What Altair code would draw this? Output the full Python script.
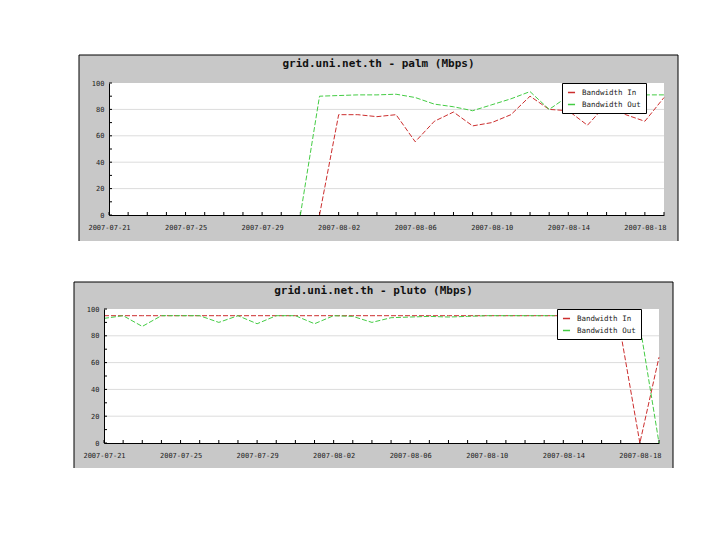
import altair as alt
import pandas as pd

# ---------------- data ----------------
dates = pd.date_range("2007-07-21", "2007-08-19", freq="D")

# None = nothing drawn above the x axis on that day
palm_in = [None, None, None, None, None, None, None, None, None, None, None, 0,
           76, 76, 74.5, 76, 55.5, 71, 78, 67.5, 70, 76, 90, 80, 79, 68, 84, 76, 71, 89]
palm_out = [None, None, None, None, None, None, None, None, None, None, 0,
            90, 90.5, 91, 91, 91.5, 89, 84, 82, 79, 83.5, 88, 93.5, 80, 90, 91, 91, 91, 91, 91]

pluto_in = [95, 95, 95, 95, 95, 95, 95, 95, 95, 95, 95, 95, 95, 95, 95,
            95, 95, 95, 95, 95, 95, 95, 95, 95, 95, 95, 95, 82, 0, 64]
pluto_out = [93, 95, 87, 95, 95, 95, 90, 95, 89, 95, 95, 89, 95, 94.5, 90,
             93.5, 94, 94.5, 94, 94.5, 95, 95, 95, 95, 95, 95, 95, 95, 88, 0]

series_names = ["Bandwidth In", "Bandwidth Out"]
series_colors = ["#cc2e2e", "#44cc44"]

x_label_dates = ["2007-07-21", "2007-07-25", "2007-07-29", "2007-08-02",
                 "2007-08-06", "2007-08-10", "2007-08-14", "2007-08-18"]
y_label_values = [0, 20, 40, 60, 80, 100]
y_tick_values = [0, 10, 20, 30, 40, 50, 60, 70, 80, 90, 100]
grid_values = [20, 40, 60, 80]

W = 555
FONT = "DejaVu Sans Mono"
PANEL = "#c8c8c8"


def dt(s):
    y, m, d = (int(p) for p in s.split("-"))
    return alt.DateTime(year=y, month=m, date=d)


def make_panel(title, s_in, s_out, H, top, bottom, title_y, dx):
    left, right = 30, 14
    df = pd.DataFrame({
        "date": list(dates) * 2,
        "value": list(s_in) + list(s_out),
        "series": [series_names[0]] * len(dates) + [series_names[1]] * len(dates),
    }).dropna()
    one = pd.DataFrame({"k": [0]})
    ticks_df = pd.DataFrame({"date": dates})
    yt_df = pd.DataFrame({"value": y_tick_values})
    grid_df = pd.DataFrame({"value": grid_values})

    x_enc = alt.X(
        "date:T",
        scale=alt.Scale(domain=[dt("2007-07-21"), dt("2007-08-19")], nice=False,
                        range=[dx, W + dx]),
        axis=alt.Axis(
            values=[dt(s) for s in x_label_dates], format="%Y-%m-%d",
            labelFont=FONT, labelFontSize=7, labelColor="#222",
            labelPadding=8, ticks=False, tickSize=0, grid=False,
            domainColor="black", domainWidth=1, labelFlush=False,
            labelOverlap=False, title=None, zindex=1,
        ),
    )
    y_enc = alt.Y(
        "value:Q",
        scale=alt.Scale(domain=[0, 100], nice=False),
        axis=alt.Axis(
            values=y_label_values, labelFont=FONT, labelFontSize=7,
            labelColor="#222", labelPadding=5, ticks=False, tickSize=0,
            grid=False, domainColor="black", domainWidth=1,
            labelFlush=False, title=None, zindex=1, offset=-dx,
        ),
    )
    color_enc = alt.Color(
        "series:N",
        scale=alt.Scale(domain=series_names, range=series_colors),
        legend=alt.Legend(
            title=None, orient="none", legendX=453 + dx, legendY=0,
            fillColor="white", strokeColor="black", padding=5,
            labelFont=FONT, labelFontSize=7.5, labelColor="#222",
            symbolType="stroke", symbolSize=50, symbolStrokeWidth=1.5,
            symbolDash=[1, 0], rowPadding=4, labelOffset=6, zindex=2,
        ),
    )

    layers = [
        alt.Chart(one).mark_rect(fill=PANEL).encode(
            x=alt.value(-left + dx), x2=alt.value(W + right + dx),
            y=alt.value(-top), y2=alt.value(H + bottom)),
        alt.Chart(one).mark_rule(color="black", strokeWidth=1).encode(
            x=alt.value(-left + dx), y=alt.value(-top), y2=alt.value(H + bottom)),
        alt.Chart(one).mark_rule(color="black", strokeWidth=1).encode(
            x=alt.value(W + right + dx), y=alt.value(-top), y2=alt.value(H + bottom)),
        alt.Chart(one).mark_rule(color="black", strokeWidth=1).encode(
            y=alt.value(-top), x=alt.value(-left + dx), x2=alt.value(W + right + dx)),
        alt.Chart(one).mark_rect(fill="white").encode(
            x=alt.value(dx), x2=alt.value(W + dx), y=alt.value(0), y2=alt.value(H)),
        alt.Chart(grid_df).mark_rule(color="#dcdcdc", strokeWidth=1).encode(
            y=y_enc, x=alt.value(dx), x2=alt.value(W + dx)),
        alt.Chart(yt_df).mark_rule(color="black", strokeWidth=1).encode(
            y=y_enc, x=alt.value(dx), x2=alt.value(dx + 3)),
        alt.Chart(ticks_df).mark_rule(color="black", strokeWidth=1).encode(
            x=x_enc, y=alt.value(H - 3), y2=alt.value(H)),
        alt.Chart(one).mark_text(font=FONT, fontSize=11, fontWeight="bold",
                                 color="#111", align="center",
                                 baseline="middle").encode(
            x=alt.value((W + right - left) / 2 + dx), y=alt.value(title_y),
            text=alt.value(title)),
        alt.Chart(df[df.series == series_names[0]]).mark_line(
            strokeDash=[5, 2], strokeWidth=1).encode(
            x=x_enc, y=y_enc, color=color_enc),
        alt.Chart(df[df.series == series_names[1]]).mark_line(
            strokeDash=[5, 2], strokeWidth=1).encode(
            x=x_enc, y=y_enc, color=color_enc),
    ]
    return alt.layer(*layers).properties(width=W, height=H)


top_chart = make_panel("grid.uni.net.th - palm (Mbps)", palm_in, palm_out,
                       H=132, top=28, bottom=26, title_y=-19, dx=0)
bottom_chart = make_panel("grid.uni.net.th - pluto (Mbps)", pluto_in, pluto_out,
                          H=134, top=27, bottom=25, title_y=-18, dx=-5)

chart = (
    alt.vconcat(top_chart, bottom_chart, spacing=39)
    .resolve_scale(color="independent", x="independent", y="independent")
    .resolve_legend(color="independent")
    .properties(padding={"left": 65, "top": 46, "right": 10, "bottom": 10},
                background="white")
    .configure_view(strokeWidth=0)
)

chart.save("out.html", embed_options={"renderer": "svg", "actions": False})
